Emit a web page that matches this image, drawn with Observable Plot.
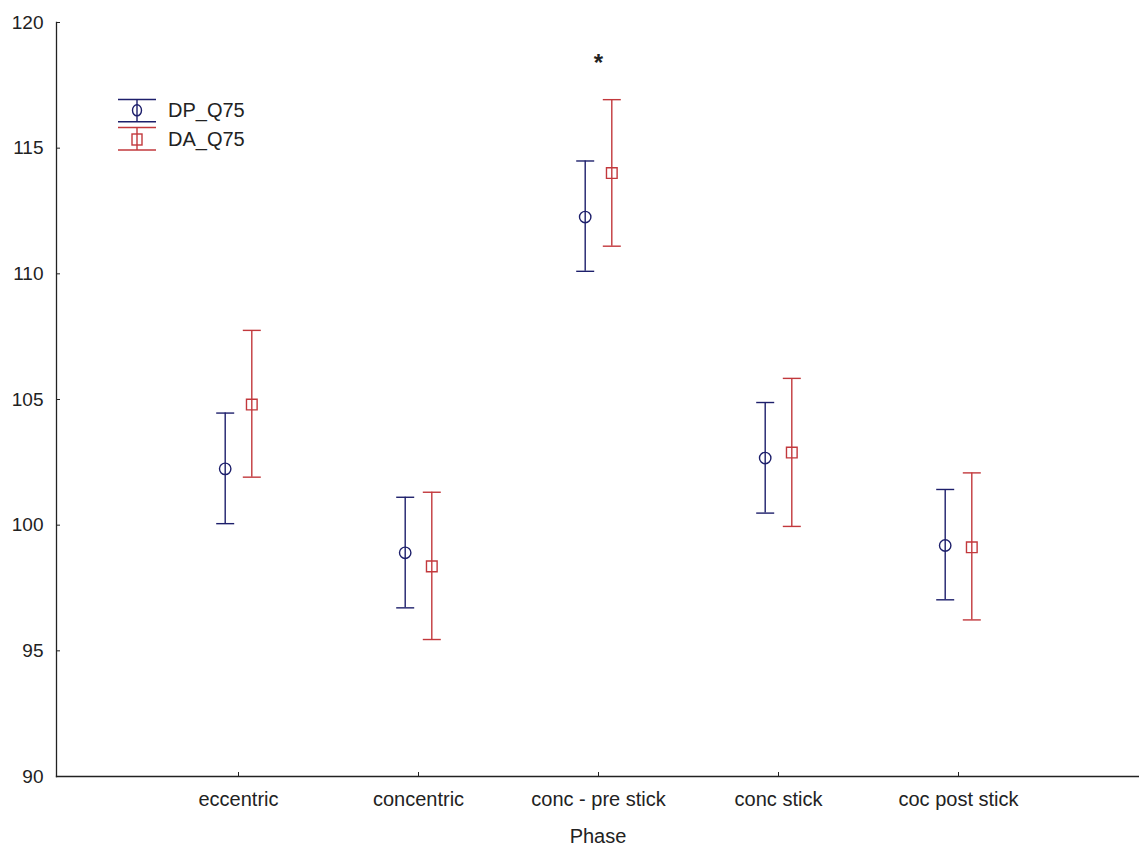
<!DOCTYPE html>
<html>
<head>
<meta charset="utf-8">
<script src="https://cdn.jsdelivr.net/npm/d3@7"></script>
<script src="https://cdn.jsdelivr.net/npm/@observablehq/plot@0.6"></script>
<style>
  html, body { margin: 0; padding: 0; background: #fff; }
  #wrap { position: relative; width: 1139px; height: 846px; overflow: hidden; }
  #legend { position: absolute; left: 0; top: 0; }
  svg { font-family: "Liberation Sans", Arial, sans-serif; }
</style>
</head>
<body>
<div id="wrap"></div>
<script>
// ---- data ----
const phases = ["eccentric", "concentric", "conc - pre stick", "conc stick", "coc post stick"];
const seriesNames = ["DP_Q75", "DA_Q75"];
const dpMean = [102.24, 98.90, 112.26, 102.67, 99.19];
const dpLow  = [100.06, 96.71, 110.10, 100.48, 97.03];
const dpHigh = [104.46, 101.11, 114.49, 104.88, 101.42];
const daMean = [104.80, 98.36, 114.01, 102.89, 99.12];
const daLow  = [101.91, 95.45, 111.10, 99.95, 96.23];
const daHigh = [107.75, 101.31, 116.93, 105.84, 102.08];
const yTicks = [90, 95, 100, 105, 110, 115, 120];
const annotations = [{phase: "conc - pre stick", value: 118.5, text: "*"}];

// ---- styles ----
const colors = {"DP_Q75": "#1d1f6b", "DA_Q75": "#c2383c"};
const symbols = {"DP_Q75": "circle", "DA_Q75": "square"};
const offsets = {"DP_Q75": -13.3, "DA_Q75": 13.3};
const radii = {"DP_Q75": 5.7, "DA_Q75": 6.0};
const ink = "#222";
const fontSize = 20;
const yFontSize = 19;
const capHalf = 9;
const capSymbol = {draw(context) { context.moveTo(-capHalf, 0); context.lineTo(capHalf, 0); }};

const dp = phases.map((p, i) => ({phase: p, series: "DP_Q75", mean: dpMean[i], lo: dpLow[i], hi: dpHigh[i]}));
const da = phases.map((p, i) => ({phase: p, series: "DA_Q75", mean: daMean[i], lo: daLow[i], hi: daHigh[i]}));

function seriesMarks(rows, name) {
  const c = colors[name], dx = offsets[name];
  return [
    Plot.ruleX(rows, {x: "phase", y1: "lo", y2: "hi", dx, stroke: c, strokeWidth: 1.4}),
    Plot.dot(rows, {x: "phase", y: "hi", dx, symbol: capSymbol, r: 4, stroke: c, fill: "none", strokeWidth: 1.4}),
    Plot.dot(rows, {x: "phase", y: "lo", dx, symbol: capSymbol, r: 4, stroke: c, fill: "none", strokeWidth: 1.4}),
    Plot.dot(rows, {x: "phase", y: "mean", dx, r: radii[name], symbol: symbols[name], stroke: c, fill: "none", strokeWidth: 1.4})
  ];
}

const chart = Plot.plot({
  width: 1139,
  height: 846,
  marginLeft: 56,
  marginRight: 0,
  marginTop: 22,
  marginBottom: 70,
  style: {fontFamily: '"Liberation Sans", Arial, sans-serif', fontSize: fontSize + "px", color: ink, background: "#fff"},
  x: {type: "point", domain: phases, padding: 1},
  y: {domain: [90, 120]},
  marks: [
    Plot.axisY({ticks: yTicks, tickSize: -4, tickPadding: 17, tickFormat: d => String(d), fontSize: yFontSize, stroke: ink, fill: ink, label: null}),
    Plot.axisX({tickSize: -4, tickPadding: 19, fontSize, stroke: ink, fill: ink, label: "Phase", labelAnchor: "center", labelArrow: "none", labelOffset: 66}),
    Plot.frame({anchor: "left", stroke: ink, strokeWidth: 1.3}),
    Plot.frame({anchor: "bottom", stroke: ink, strokeWidth: 1.3}),
    ...seriesMarks(dp, "DP_Q75"),
    ...seriesMarks(da, "DA_Q75"),
    Plot.text(annotations, {x: "phase", y: "value", text: "text", fontSize: 24, fontWeight: "bold", fill: ink, dy: 3})
  ]
});
document.getElementById("wrap").appendChild(chart);

// ---- legend (inside plot area, top-left) ----
const leg = d3.select("#wrap").append("svg")
  .attr("id", "legend").attr("width", 300).attr("height", 170);
const items = [
  {name: "DP_Q75", capTop: 99.5, capBot: 121.7, cy: 110.3, ty: 109.5},
  {name: "DA_Q75", capTop: 127.5, capBot: 150, cy: 139.5, ty: 139}
];
const lx0 = 118, lx1 = 156, lcx = 137, ltx = 168;
items.forEach(it => {
  const g = leg.append("g").attr("stroke", colors[it.name]).attr("stroke-width", 1.4).attr("fill", "none");
  g.append("line").attr("x1", lx0).attr("x2", lx1).attr("y1", it.capTop).attr("y2", it.capTop);
  g.append("line").attr("x1", lx0).attr("x2", lx1).attr("y1", it.capBot).attr("y2", it.capBot);
  g.append("line").attr("x1", lcx).attr("x2", lcx).attr("y1", it.capTop).attr("y2", it.capBot);
  if (symbols[it.name] === "circle") {
    g.append("ellipse").attr("cx", lcx).attr("cy", it.cy).attr("rx", 4.5).attr("ry", 5.5);
  } else {
    g.append("rect").attr("x", lcx - 5).attr("y", it.cy - 5.5).attr("width", 10).attr("height", 11);
  }
  leg.append("text").attr("x", ltx).attr("y", it.ty).attr("dy", "0.35em")
    .attr("fill", ink).attr("font-size", fontSize).text(it.name);
});
</script>
</body>
</html>
